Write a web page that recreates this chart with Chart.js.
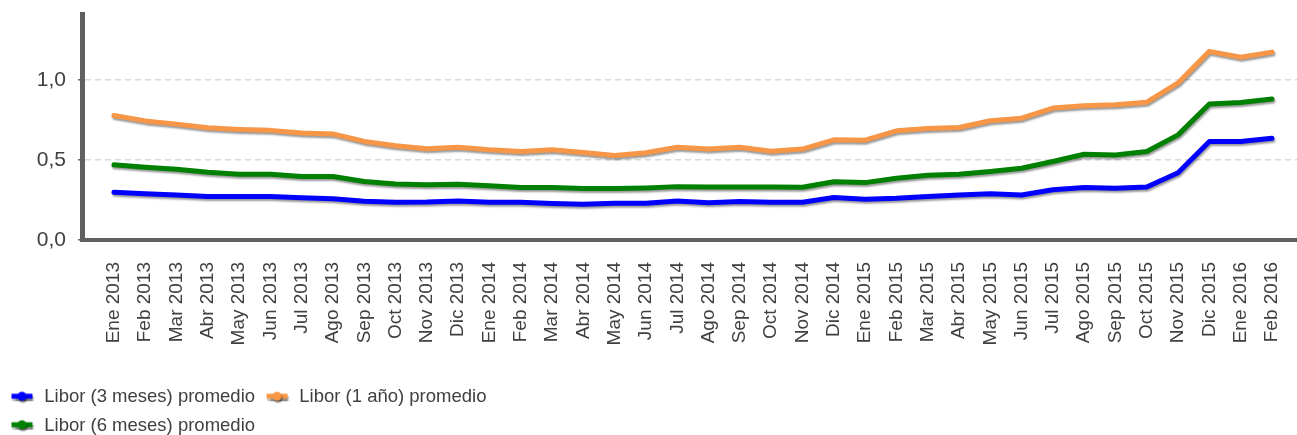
<!DOCTYPE html>
<html>
<head>
<meta charset="utf-8">
<script src="https://cdn.jsdelivr.net/npm/chart.js@4/dist/chart.umd.min.js"></script>
<style>
  html, body { margin: 0; padding: 0; background: #fff; }
  #wrap { width: 1297px; height: 435px; }
</style>
</head>
<body>
<div id="wrap"><canvas id="libor-chart"></canvas></div>
<script>
var months = ["Ene","Feb","Mar","Abr","May","Jun","Jul","Ago","Sep","Oct","Nov","Dic"];
var monthLabels = [];
[2013, 2014, 2015].forEach(function (y) {
  months.forEach(function (m) { monthLabels.push(m + " " + y); });
});
monthLabels.push("Ene 2016", "Feb 2016");

var libor3m = [0.298,0.288,0.281,0.271,0.271,0.271,0.263,0.258,0.242,0.235,0.237,0.244,
               0.235,0.235,0.227,0.223,0.229,0.229,0.244,0.233,0.240,0.235,0.235,0.265,
               0.254,0.260,0.271,0.281,0.288,0.281,0.313,0.327,0.323,0.331,0.420,0.615,
               0.615,0.635];
var libor6m = [0.469,0.454,0.442,0.423,0.410,0.410,0.396,0.396,0.365,0.350,0.344,0.348,
               0.338,0.327,0.327,0.321,0.321,0.325,0.333,0.330,0.331,0.331,0.329,0.363,
               0.358,0.385,0.404,0.410,0.427,0.448,0.490,0.535,0.531,0.552,0.656,0.848,
               0.858,0.880];
var libor1y = [0.777,0.743,0.723,0.700,0.690,0.684,0.667,0.662,0.615,0.588,0.570,0.579,
               0.563,0.552,0.563,0.546,0.527,0.544,0.579,0.567,0.579,0.554,0.567,0.625,
               0.623,0.681,0.695,0.702,0.744,0.760,0.823,0.838,0.844,0.860,0.980,1.177,
               1.140,1.172];
var yTicks = [0, 0.5, 1.0];

var seriesNames = ["Libor (3 meses) promedio", "Libor (6 meses) promedio", "Libor (1 año) promedio"];
var seriesColors = ["#0000ff", "#008000", "#f79646"];
var legendOrder = [0, 2, 1];

var fontFamily = "'Liberation Sans', Arial, sans-serif";
var textColor = "#404040";
var axisColor = "#606060";
var legendWidth = 520;   // narrow enough to push the third entry onto a second row
var legendHeight = 57;

// little line-and-dot sample used in the legend
function makeMarker(color) {
  var c = document.createElement("canvas");
  c.width = 24; c.height = 14;
  var g = c.getContext("2d");
  g.shadowColor = "rgba(0,0,0,0.45)";
  g.shadowOffsetX = 1; g.shadowOffsetY = 2; g.shadowBlur = 1;
  g.strokeStyle = color; g.fillStyle = color;
  g.lineWidth = 5; g.lineCap = "butt";
  g.beginPath(); g.moveTo(1, 6); g.lineTo(22, 6); g.stroke();
  g.beginPath(); g.arc(11.5, 6, 4.5, 0, Math.PI * 2); g.fill();
  return c;
}
var markers = seriesColors.map(makeMarker);

var lineShadow = {
  id: "lineShadow",
  beforeDatasetsDraw: function (chart) {
    var ctx = chart.ctx;
    ctx.save();
    ctx.shadowColor = "rgba(0,0,0,0.4)";
    ctx.shadowOffsetX = 1;
    ctx.shadowOffsetY = 2;
    ctx.shadowBlur = 2;
  },
  afterDatasetsDraw: function (chart) {
    chart.ctx.restore();
  }
};

// wrap the legend into rows of limited width
var legendRows = {
  id: "legendRows",
  beforeLayout: function (chart) {
    var lg = chart.legend;
    if (!lg || lg._rowsPatched) return;
    var fit = lg.fit;
    lg.fit = function () {
      var full = this.maxWidth;
      this.maxWidth = Math.min(full, legendWidth);
      fit.call(this);
      this.maxWidth = full;
      this.height = legendHeight;
    };
    lg._rowsPatched = true;
  },
  afterLayout: function (chart) {
    var lg = chart.legend;
    if (lg) {
      lg.right = lg.left + legendWidth;
      lg.width = legendWidth;
    }
  }
};

var seriesData = [libor3m, libor6m, libor1y];
var datasets = seriesData.map(function (vals, i) {
  return {
    label: seriesNames[i],
    data: vals.map(function (v, k) { return { x: k, y: v }; }),
    borderColor: seriesColors[i],
    backgroundColor: seriesColors[i],
    borderWidth: 5,
    borderCapStyle: "round",
    borderJoinStyle: "round",
    pointRadius: 0,
    tension: 0
  };
});

new Chart(document.getElementById("libor-chart"), {
  type: "line",
  data: { datasets: datasets },
  plugins: [lineShadow, legendRows],
  options: {
    responsive: true,
    maintainAspectRatio: false,
    animation: false,
    layout: { padding: { top: 14, right: 0, left: 0, bottom: 0 } },
    plugins: {
      tooltip: { enabled: false },
      legend: {
        position: "bottom",
        align: "start",
        labels: {
          usePointStyle: true,
          pointStyleWidth: 25,
          padding: 10,
          color: textColor,
          font: { family: fontFamily, size: 18.5 },
          sort: function (a, b) {
            return legendOrder.indexOf(a.datasetIndex) - legendOrder.indexOf(b.datasetIndex);
          },
          generateLabels: function (chart) {
            var items = Chart.defaults.plugins.legend.labels.generateLabels(chart);
            items.forEach(function (it) { it.pointStyle = markers[it.datasetIndex]; });
            return items;
          }
        }
      }
    },
    scales: {
      x: {
        type: "linear",
        min: -1.02,
        max: 37.8,
        afterBuildTicks: function (s) {
          s.ticks = monthLabels.map(function (_, i) { return { value: i }; });
        },
        afterFit: function (s) {
          s.height = 138;
          s.paddingLeft = 0;
          s.paddingRight = 0;
        },
        grid: { display: false, drawTicks: false },
        border: { display: true, color: axisColor, width: 4 },
        ticks: {
          autoSkip: false,
          minRotation: 90,
          maxRotation: 90,
          padding: 22,
          color: textColor,
          font: { family: fontFamily, size: 19 },
          callback: function (v) { return monthLabels[v]; }
        }
      },
      y: {
        min: 0,
        max: 1.41,
        afterBuildTicks: function (s) {
          s.ticks = yTicks.map(function (v) { return { value: v }; });
        },
        afterFit: function (s) {
          s.width = 82;
          s.paddingTop = 0;
          s.paddingBottom = 0;
        },
        grid: {
          color: "#d9d9d9",
          lineWidth: 1.5,
          tickColor: axisColor,
          tickLength: 4,
          tickBorderDash: []
        },
        // in v4 the dash pattern of the grid lines lives under border
        border: { display: true, color: axisColor, width: 5, dash: [6, 4] },
        ticks: {
          padding: 12,
          color: textColor,
          font: { family: fontFamily, size: 21 },
          callback: function (v) { return v.toFixed(1).replace(".", ","); }
        }
      }
    }
  }
});
</script>
</body>
</html>
